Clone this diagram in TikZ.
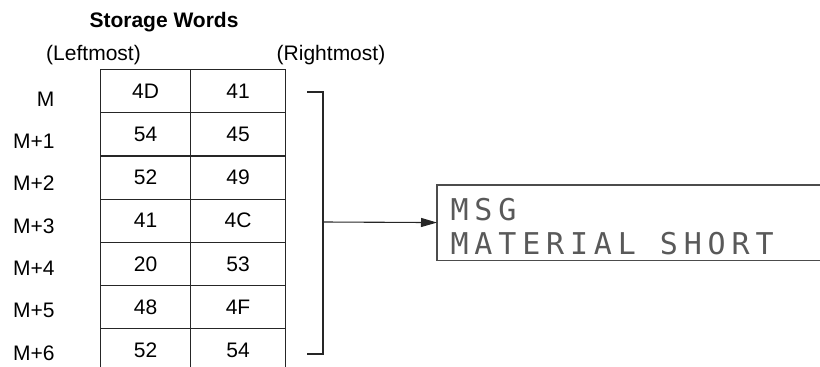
\documentclass[tikz,border=0pt]{standalone}
\usepackage{fontspec}
\setmainfont{Liberation Sans}
\newfontfamily\dotfont[LetterSpace=19.5]{DejaVu Sans Mono}
\usetikzlibrary{arrows.meta}
\begin{document}
\begin{tikzpicture}[x=1pt,y=-1pt,line width=1.1pt,
  lbl/.style={font=\fontsize{21}{25}\selectfont, inner sep=0pt},
  cellbox/.style={draw=black!85, minimum height=43.2pt, anchor=north west,
    inner sep=0pt, font=\fontsize{21}{25}\selectfont},
  cellL/.style={cellbox, minimum width=90pt},
  cellR/.style={cellbox, minimum width=95pt},
  rail/.style={draw=black!85, line width=1.1pt},
  dotline/.style={anchor=base west, inner sep=0pt,
    font=\dotfont\fontsize{30}{34}\selectfont, text=black!65}]
\useasboundingbox (0,0) rectangle (820,367);
% title and column captions
\node[lbl, font=\bfseries\fontsize{21}{25}\selectfont, anchor=base] (title) at (164,27) {Storage Words};
\node[lbl, anchor=base] (left) at (93.5,60) {(Leftmost)};
\node[lbl, anchor=base] (right) at (331,60) {(Rightmost)};
% table
\foreach \i/\a/\b/\lab in {0/4D/41/M, 1/54/45/M+1, 2/52/49/M+2, 3/41/4C/M+3,
                           4/20/53/M+4, 5/48/4F/M+5, 6/52/54/M+6}{
  \node[cellL] (L\i) at (100,{69+43.2*\i}) {\a};
  \node[cellR] (R\i) at (190,{69+43.2*\i}) {\b};
  \node[lbl, anchor=base east] (lab\i) at (55,{106+42.35*\i}) {\lab};
}
% bracket
\coordinate (btl) at (307,92);
\coordinate (btr) at (323,92);
\coordinate (bbr) at (323,354);
\coordinate (bbl) at (307,354);
\coordinate (bmid) at (323,222);
\draw[rail] (btl) -- (btr) -- (bbr) -- (bbl);
% display
\node[minimum width=400pt, minimum height=74pt, anchor=north west, inner sep=0pt] (display) at (437,185) {};
\draw[draw=black!70, line width=1.1pt] (display.north east) -- (display.north west) -- (display.south west) -- (display.south east);
\draw[rail, -{Triangle[length=16pt,width=9pt]}] (bmid) -- (display.west);
\node[dotline] (msg1) at (450,220) {MSG};
\node[dotline] (msg2) at (450,254) {MATERIAL SHORT};
\end{tikzpicture}
\end{document}
